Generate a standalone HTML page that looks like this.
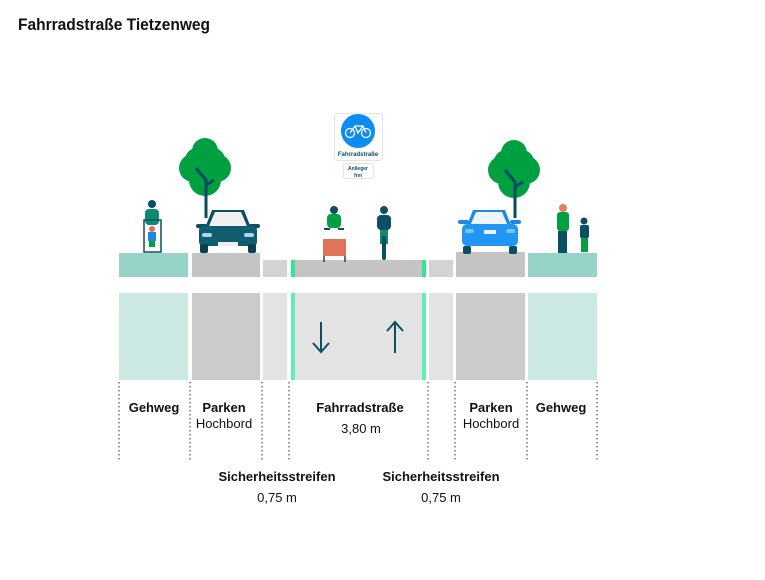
<!DOCTYPE html>
<html><head><meta charset="utf-8"><style>
body{margin:0;background:#fff;width:765px;height:580px;overflow:hidden}
svg{display:block}
text{font-family:"Liberation Sans Narrow","Liberation Sans",sans-serif;fill:#111}
</style></head><body>
<svg width="765" height="580" viewBox="0 0 765 580">
<text x="18" y="30" font-size="17" font-weight="bold" textLength="192" lengthAdjust="spacingAndGlyphs">Fahrradstraße Tietzenweg</text>

<!-- section strips -->
<rect x="119" y="253" width="69" height="24" fill="#97d3c9"/>
<rect x="192" y="253" width="68" height="24" fill="#c4c4c5"/>
<rect x="263" y="260" width="24" height="17" fill="#d3d3d4"/>
<rect x="291" y="260" width="135" height="17" fill="#c4c4c5"/>
<rect x="291" y="260" width="4" height="17" fill="#2ee890"/>
<rect x="422" y="260" width="4" height="17" fill="#2ee890"/>
<rect x="429" y="260" width="24" height="17" fill="#d3d3d4"/>
<rect x="456" y="252" width="69" height="25" fill="#c4c4c5"/>
<rect x="528" y="253" width="69" height="24" fill="#97d3c9"/>

<!-- trees -->
<g fill="#00a040">
<circle cx="205" cy="151" r="13"/><circle cx="193" cy="168" r="14"/><circle cx="217" cy="168" r="14"/><circle cx="205" cy="180" r="16"/><circle cx="197" cy="160" r="12"/><circle cx="213" cy="160" r="12"/><circle cx="205" cy="166" r="16"/>
<circle cx="514" cy="153" r="13"/><circle cx="502" cy="170" r="14"/><circle cx="526" cy="170" r="14"/><circle cx="514" cy="182" r="16"/><circle cx="506" cy="162" r="12"/><circle cx="522" cy="162" r="12"/><circle cx="514" cy="168" r="16"/>
</g>
<g stroke="#0a4a60" stroke-width="3" fill="none">
<path d="M206 218V180L196 168M206 185L214 180"/>
<path d="M515 218V182L505 170M515 187L523 182"/>
</g>

<!-- left car -->
<g>
<path d="M205 228L212 210H244L251 228Z" fill="#0b4f62"/>
<path d="M209 226L215 212H241L247 226Z" fill="#eef0f1"/>
<rect x="196" y="224" width="11" height="4" rx="2" fill="#0b4f62"/><rect x="249" y="224" width="11" height="4" rx="2" fill="#0b4f62"/>
<rect x="199" y="226" width="58" height="20" rx="4" fill="#0f5d6f"/>
<rect x="202" y="233" width="10" height="4" rx="2" fill="#a9d6ee"/><rect x="244" y="233" width="10" height="4" rx="2" fill="#a9d6ee"/>
<rect x="218" y="242" width="20" height="4" fill="#eee"/>
<rect x="200" y="244" width="8" height="9" rx="2" fill="#0b4050"/><rect x="248" y="244" width="8" height="9" rx="2" fill="#0b4050"/>
</g>
<!-- right car -->
<g>
<path d="M466 228L473 210H505L512 228Z" fill="#1e88e5"/>
<path d="M470 226L476 212H502L508 226Z" fill="#eef4fb"/>
<rect x="458" y="220" width="11" height="4" rx="2" fill="#1e88e5"/><rect x="510" y="220" width="11" height="4" rx="2" fill="#1e88e5"/>
<rect x="462" y="224" width="56" height="22" rx="5" fill="#2196f3"/>
<rect x="465" y="229" width="9" height="4" rx="2" fill="#7cc4ff"/><rect x="506" y="229" width="9" height="4" rx="2" fill="#7cc4ff"/>
<rect x="484" y="230" width="12" height="4" fill="#eef"/>
<rect x="463" y="246" width="8" height="8" rx="2" fill="#0b4f62"/><rect x="509" y="246" width="8" height="8" rx="2" fill="#0b4f62"/>
</g>

<!-- left person with stroller -->
<circle cx="152" cy="204" r="4" fill="#0b4f62"/>
<rect x="145" y="209" width="14" height="16" rx="4" fill="#0f8a70"/>
<rect x="144" y="220" width="17" height="32" fill="none" stroke="#0b4f62" stroke-width="1.5"/>
<circle cx="152" cy="229" r="3" fill="#e07050"/>
<rect x="148" y="232" width="8" height="9" fill="#1e88e5"/>
<rect x="149" y="241" width="6" height="6" fill="#00a040"/>

<!-- cargo bike -->
<circle cx="334" cy="210" r="4" fill="#0b4f62"/>
<rect x="327" y="214" width="14" height="14" rx="4" fill="#00a040"/>
<rect x="324" y="228" width="6" height="2" fill="#0b4f62"/><rect x="338" y="228" width="6" height="2" fill="#0b4f62"/>
<rect x="323" y="239" width="23" height="17" fill="#e07458"/>
<path d="M324 256v6M345 256v6" stroke="#0b4f62" stroke-width="1.5"/>
<!-- cyclist -->
<circle cx="384" cy="210" r="4" fill="#0b4f62"/>
<rect x="377" y="215" width="14" height="15" rx="4" fill="#0b4f62"/>
<rect x="380" y="230" width="8" height="14" fill="#0f8a70"/>
<rect x="382" y="236" width="4" height="24" rx="2" fill="#0b4f62"/>

<!-- right people -->
<circle cx="563" cy="208" r="4" fill="#e08060"/>
<rect x="557" y="212" width="12" height="19" rx="3" fill="#00a040"/>
<rect x="558" y="231" width="9" height="22" fill="#0b4f62"/>
<circle cx="584" cy="221" r="3.5" fill="#0b4f62"/>
<rect x="580" y="225" width="9" height="13" rx="2" fill="#0b4f62"/>
<rect x="581" y="238" width="7" height="14" fill="#00a040"/>

<!-- sign -->
<rect x="334.5" y="113.5" width="48" height="47" rx="3" fill="#fff" stroke="#e4e4e4"/>
<circle cx="358" cy="131" r="17" fill="#0a8cf0"/>
<g stroke="#fff" stroke-width="1.3" fill="none"><circle cx="350" cy="133" r="4.5"/><circle cx="366" cy="133" r="4.5"/><path d="M350 133L355 126H363L366 133M355 126L358 133L363 126"/></g>
<text x="358" y="156" font-size="6" text-anchor="middle" font-weight="bold" style="fill:#0b4f62">Fahrradstraße</text>
<rect x="343.5" y="163.5" width="30" height="15" rx="2" fill="#fff" stroke="#e4e4e4"/>
<text x="358" y="170" font-size="5" text-anchor="middle" font-weight="bold" style="fill:#0b4f62">Anlieger</text>
<text x="358" y="177" font-size="5" text-anchor="middle" font-weight="bold" style="fill:#0b4f62">frei</text>

<!-- plan view -->
<rect x="119" y="293" width="69" height="87" fill="#cbe8e3"/>
<rect x="192" y="293" width="68" height="87" fill="#cbcbcc"/>
<rect x="263" y="293" width="24" height="87" fill="#e3e3e3"/>
<rect x="291" y="293" width="135" height="87" fill="#e3e3e3"/>
<rect x="291" y="293" width="4" height="87" fill="#5ef0b0"/>
<rect x="422" y="293" width="4" height="87" fill="#5ef0b0"/>
<rect x="429" y="293" width="24" height="87" fill="#e3e3e3"/>
<rect x="456" y="293" width="69" height="87" fill="#cbcbcc"/>
<rect x="528" y="293" width="69" height="87" fill="#cbe8e3"/>
<g stroke="#0b4f62" stroke-width="2" fill="none">
<path d="M321 322V352M313 343L321 352L329 343"/>
<path d="M395 353V322M387 331L395 322L403 331"/>
</g>

<g stroke="#333" stroke-width="1" stroke-dasharray="1.5 2.5">
<path d="M119 382V462M190 382V462M262 382V462M289 382V462M428 382V462M455 382V462M527 382V462M597 382V462"/>
</g>

<g font-size="13" text-anchor="middle">
<text x="154" y="412" font-weight="bold">Gehweg</text>
<text x="224" y="412" font-weight="bold">Parken</text>
<text x="224" y="428">Hochbord</text>
<text x="360" y="412" font-weight="bold">Fahrradstraße</text>
<text x="361" y="433">3,80 m</text>
<text x="491" y="412" font-weight="bold">Parken</text>
<text x="491" y="428">Hochbord</text>
<text x="561" y="412" font-weight="bold">Gehweg</text>
<text x="277" y="481" font-weight="bold">Sicherheitsstreifen</text>
<text x="277" y="502">0,75 m</text>
<text x="441" y="481" font-weight="bold">Sicherheitsstreifen</text>
<text x="441" y="502">0,75 m</text>
</g>
</svg>
</body></html>
